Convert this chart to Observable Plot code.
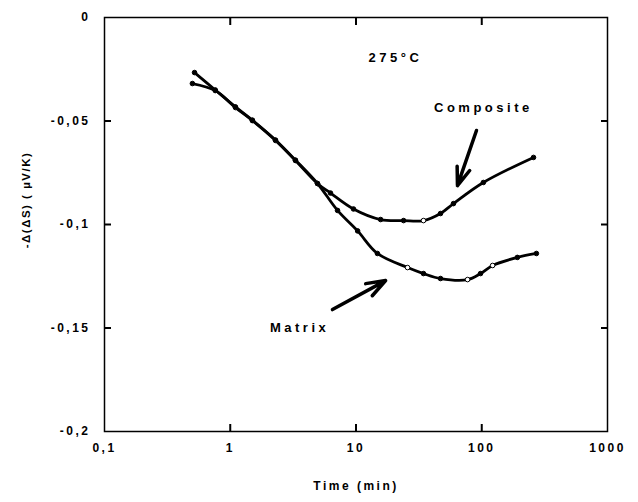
<!DOCTYPE html>
<html>
<head>
<meta charset="utf-8">
<script src="https://cdn.jsdelivr.net/npm/d3@7"></script>
<script src="https://cdn.jsdelivr.net/npm/@observablehq/plot@0.6"></script>
<style>
  html, body { margin: 0; padding: 0; background: #fff; }
  #chart svg { font-family: "Liberation Sans", Arial, sans-serif; }
  g[aria-label="y-axis tick label"] text { letter-spacing: 2.5px; }
  g[aria-label="x-axis tick label"] text { letter-spacing: 2.5px; }
  g[aria-label="x-axis label"] text { letter-spacing: 2.5px; }
  g[aria-label="text"] text { letter-spacing: 3.5px; }
</style>
</head>
<body>
<div id="chart"></div>
<script>
// ---- data ----
const compositeTime  = [0.50, 0.76, 1.10, 1.50, 2.29, 3.30, 4.94, 6.27, 9.55, 15.7, 23.9, 34.4, 47.0, 59.6, 103, 258];
const compositeValue = [-0.0319, -0.0353, -0.0435, -0.0498, -0.0594, -0.0691, -0.0802, -0.0848, -0.0925, -0.0976, -0.0981, -0.0981, -0.0947, -0.0899, -0.0797, -0.0676];
const compositeOpen  = [false, false, true, false, true, false, true, false, false, false, false, true, false, false, false, false];

const matrixTime  = [0.52, 0.76, 1.10, 1.50, 2.29, 3.30, 4.94, 7.13, 10.3, 14.8, 25.7, 34.4, 47.0, 77.1, 97.8, 122, 192, 272];
const matrixValue = [-0.0266, -0.0350, -0.0432, -0.0496, -0.0592, -0.0689, -0.0802, -0.0932, -0.1031, -0.1140, -0.1208, -0.1237, -0.1261, -0.1266, -0.1237, -0.1198, -0.1159, -0.1140];
const matrixOpen  = [false, false, false, false, false, false, false, false, false, false, true, false, false, true, false, true, false, false];

const xTicks = [0.1, 1, 10, 100, 1000];
const xTickLabels = ["0,1", "1", "10", "100", "1000"];
const yTicks = [0, -0.05, -0.1, -0.15, -0.2];
const yTickLabels = ["0", "-0,05", "-0,1", "-0,15", "-0,2"];

const xTitle = "Time (min)";
const yTitle = "-Δ(ΔS) ( µV/K)";

// annotations (data coordinates)
const noteText = ["275°C", "Composite", "Matrix"];
const noteTime = [20.6, 103, 3.56];
const noteValue = [-0.0193, -0.0435, -0.150];

const arrowFromTime = [90.8, 6.5];
const arrowFromValue = [-0.0546, -0.1411];
const arrowToTime = [64.1, 17.2];
const arrowToValue = [-0.0812, -0.1271];

// ---- tables built from the arrays ----
const composite = compositeTime.map((t, i) => ({t, v: compositeValue[i], open: compositeOpen[i]}));
const matrix = matrixTime.map((t, i) => ({t, v: matrixValue[i], open: matrixOpen[i]}));
const notes = noteText.map((s, i) => ({s, t: noteTime[i], v: noteValue[i]}));
const arrows = arrowFromTime.map((t, i) => ({x1: t, y1: arrowFromValue[i], x2: arrowToTime[i], y2: arrowToValue[i]}));

const innerTicksX = xTicks.slice(1, -1);
const innerTicksY = yTicks.slice(1, -1);

const chart = Plot.plot({
  width: 638,
  height: 502,
  marginLeft: 104,
  marginRight: 31,
  marginTop: 17,
  marginBottom: 71,
  style: {fontFamily: "'Liberation Sans', Arial, sans-serif", color: "#000", background: "#fff"},
  x: {type: "log", domain: [0.1, 1000]},
  y: {domain: [-0.2, 0]},
  marks: [
    // tick labels (no tick lines)
    Plot.axisX({ticks: xTicks, tickSize: 0, tickPadding: 12, fontSize: 12, fontWeight: "bold",
      tickFormat: d => xTickLabels[xTicks.indexOf(d)], label: xTitle, labelAnchor: "center",
      labelArrow: "none", labelOffset: 58}),
    Plot.axisY({ticks: yTicks, tickSize: 0, tickPadding: 14, fontSize: 12, fontWeight: "bold",
      tickFormat: d => yTickLabels[yTicks.findIndex(v => Math.abs(v - d) < 1e-9)], label: null}),
    // inward tick marks on all four sides
    Plot.axisX({anchor: "bottom", ticks: innerTicksX, tickSize: -7, strokeWidth: 2, tickFormat: () => "", label: null}),
    Plot.axisX({anchor: "top", ticks: innerTicksX, tickSize: -7, strokeWidth: 2, tickFormat: () => "", label: null}),
    Plot.axisY({anchor: "left", ticks: innerTicksY, tickSize: -7, strokeWidth: 2, tickFormat: () => "", label: null}),
    Plot.axisY({anchor: "right", ticks: innerTicksY, tickSize: -7, strokeWidth: 2, tickFormat: () => "", label: null}),
    Plot.frame({stroke: "#000", strokeWidth: 1.5}),
    // series
    Plot.line(composite, {x: "t", y: "v", stroke: "#000", strokeWidth: 2.8, curve: "catmull-rom"}),
    Plot.line(matrix, {x: "t", y: "v", stroke: "#000", strokeWidth: 2.8, curve: "catmull-rom"}),
    Plot.dot(composite, {x: "t", y: "v", r: 2.3, stroke: "#000", strokeWidth: 1, fill: d => d.open ? "#fff" : "#000"}),
    Plot.dot(matrix, {x: "t", y: "v", r: 2.3, stroke: "#000", strokeWidth: 1, fill: d => d.open ? "#fff" : "#000"}),
    // annotations
    Plot.text(notes, {x: "t", y: "v", text: "s", fontSize: 13, fontWeight: "bold", fill: "#000"}),
    Plot.arrow(arrows, {x1: "x1", y1: "y1", x2: "x2", y2: "y2", stroke: "#000", strokeWidth: 3.5, headLength: 11, headAngle: 40})
  ]
});

// y-axis title (rotated) added as SVG text in the margin
const svg = d3.select(chart);
svg.append("text")
  .attr("transform", "translate(27,200) rotate(-90)")
  .attr("text-anchor", "middle")
  .attr("dominant-baseline", "middle")
  .attr("font-size", 11.5)
  .attr("font-weight", "bold")
  .attr("fill", "#000")
  .style("letter-spacing", "1.5px")
  .text(yTitle);

document.getElementById("chart").appendChild(chart);
</script>
</body>
</html>
